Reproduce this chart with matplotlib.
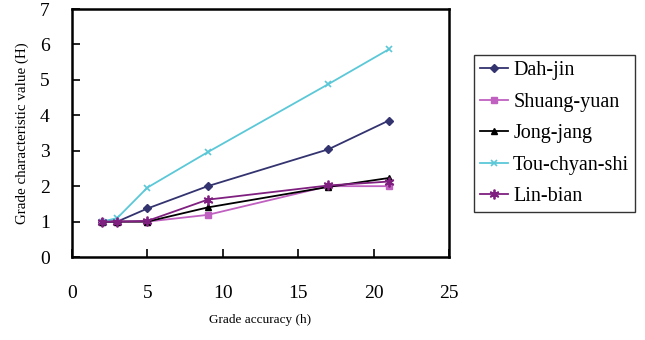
import matplotlib
matplotlib.use('Agg')
from matplotlib import pyplot as plt

# Grade accuracy (h)
accuracy = [2, 3, 5, 9, 17, 21]

# Grade characteristic value (H) per site
dah_jin = [1.0, 1.0, 1.37, 2.0, 3.04, 3.85]
shuang_yuan = [1.0, 1.0, 1.0, 1.19, 2.0, 2.0]
jong_jang = [1.0, 1.0, 1.0, 1.4, 1.98, 2.23]
tou_chyan_shi = [1.0, 1.1, 1.96, 2.96, 4.88, 5.86]
lin_bian = [1.0, 1.0, 1.02, 1.62, 2.02, 2.13]

series_names = ['Dah-jin', 'Shuang-yuan', 'Jong-jang', 'Tou-chyan-shi', 'Lin-bian']

plt.rcParams['font.family'] = ['Liberation Serif', 'DejaVu Serif']

fig = plt.figure(figsize=(6.45, 3.4), dpi=100)
ax = fig.add_axes([0.1116, 0.244, 0.5845, 0.7295])

styles = [
    dict(color='#333370', marker='D', markersize=4),
    dict(color='#c060c0', marker='s', markersize=4.5),
    dict(color='#000000', marker='^', markersize=5),
    dict(color='#5bc8d8', marker='x', markersize=5, markeredgewidth=1.2),
    dict(color='#7f1f7f', marker=(6, 2, 0), markersize=7, markeredgewidth=1.3),
]
for name, vals, st in zip(series_names,
                          [dah_jin, shuang_yuan, jong_jang, tou_chyan_shi, lin_bian],
                          styles):
    ax.plot(accuracy, vals, linewidth=1.3, label=name, **st)

ax.set_xlim(0, 25)
ax.set_ylim(0, 7)
ax.set_xticks(range(0, 26, 5))
ax.set_yticks(range(0, 8))
ax.tick_params(direction='in', length=6, width=1.2, labelsize=14)
ax.tick_params(axis='x', pad=20)
ax.tick_params(axis='y', pad=16)
for sp in ax.spines.values():
    sp.set_linewidth(1.8)

ax.set_xlabel('Grade accuracy (h)', fontsize=9.5, labelpad=9)
ax.set_ylabel('Grade characteristic value (H)', fontsize=10.8, labelpad=8)

leg = ax.legend(loc='upper left', bbox_to_anchor=(1.066, 0.815), fontsize=14.5,
                frameon=True, fancybox=False, edgecolor='black',
                handlelength=1.4, handletextpad=0.25, labelspacing=0.62,
                borderpad=0.3, borderaxespad=0)
leg.get_frame().set_linewidth(1.0)

fig.savefig('out.png', dpi=100)
